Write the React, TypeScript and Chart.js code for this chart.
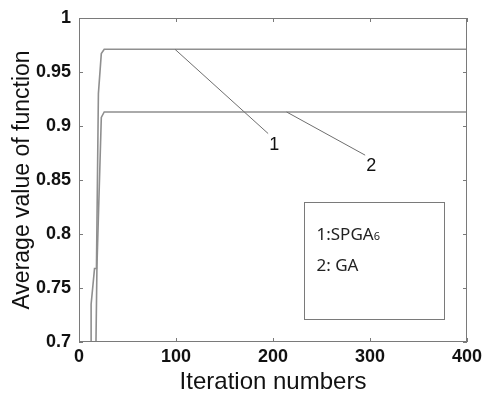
import React, { useEffect, useRef } from "react";
import { Chart, registerables } from "chart.js";

Chart.register(...registerables);

// Series data (iteration, average value of function)
const spgaX = [12.5, 12.5, 16, 18, 20, 23, 26, 400];
const spgaY = [0.7, 0.735, 0.768, 0.768, 0.93, 0.967, 0.971, 0.971];
const gaX = [17.5, 18.5, 23, 26, 400];
const gaY = [0.7, 0.77, 0.908, 0.913, 0.913];

const xTicks = [0, 100, 200, 300, 400];
const yTicks = [0.7, 0.75, 0.8, 0.85, 0.9, 0.95, 1];

// Leader line annotations: [fromX, fromY, toX, toY]
const leader1 = [99, 0.971, 195, 0.893];
const leader2 = [214, 0.913, 295, 0.873];
const leaderLabels = ["1", "2"];

// Legend box (data coordinates)
const legendBox = [232, 0.8296, 376, 0.7213];
const legendLines = ["1:SPGA", "2: GA"];
const legendSub = "6";

const LINE_COLOR = "#8f8f8f";
const FRAME_COLOR = "#7a7a7a";
const TEXT_COLOR = "#111111";

const overlay = {
  id: "overlay",
  afterDatasetsDraw(chart: any) {
    const { ctx, chartArea: a, scales } = chart;
    const xs = scales.x;
    const ys = scales.y;
    ctx.save();
    ctx.strokeStyle = FRAME_COLOR;
    ctx.lineWidth = 1;
    ctx.strokeRect(Math.round(a.left) + 0.5, Math.round(a.top) + 0.5, Math.round(a.right - a.left) - 1, Math.round(a.bottom - a.top) - 1);
    const tl = 4;
    ctx.beginPath();
    for (const v of xTicks) {
      const px = Math.round(xs.getPixelForValue(v)) + 0.5;
      ctx.moveTo(px, a.bottom);
      ctx.lineTo(px, a.bottom - tl);
      ctx.moveTo(px, a.top);
      ctx.lineTo(px, a.top + tl);
    }
    for (const v of yTicks) {
      const py = Math.round(ys.getPixelForValue(v)) + 0.5;
      ctx.moveTo(a.left, py);
      ctx.lineTo(a.left + tl, py);
      ctx.moveTo(a.right, py);
      ctx.lineTo(a.right - tl, py);
    }
    ctx.stroke();

    ctx.strokeStyle = "#6e6e6e";
    ctx.lineWidth = 1;
    const leaders = [leader1, leader2];
    ctx.fillStyle = TEXT_COLOR;
    ctx.font = "18px 'Liberation Sans', Arial, sans-serif";
    ctx.textAlign = "left";
    ctx.textBaseline = "middle";
    leaders.forEach((l, i) => {
      const x1 = xs.getPixelForValue(l[0]);
      const y1 = ys.getPixelForValue(l[1]);
      const x2 = xs.getPixelForValue(l[2]);
      const y2 = ys.getPixelForValue(l[3]);
      ctx.beginPath();
      ctx.moveTo(x1, y1);
      ctx.lineTo(x2, y2);
      ctx.stroke();
      ctx.fillText(leaderLabels[i], x2 + 1, y2 + 11);
    });

    const bx1 = Math.round(xs.getPixelForValue(legendBox[0])) + 0.5;
    const by1 = Math.round(ys.getPixelForValue(legendBox[1])) + 0.5;
    const bx2 = Math.round(xs.getPixelForValue(legendBox[2])) + 0.5;
    const by2 = Math.round(ys.getPixelForValue(legendBox[3])) + 0.5;
    ctx.strokeStyle = FRAME_COLOR;
    ctx.strokeRect(bx1, by1, bx2 - bx1, by2 - by1);
    ctx.fillStyle = "#222";
    ctx.textBaseline = "alphabetic";
    ctx.font = "17px 'Noto Sans', sans-serif";
    const tx = bx1 + 12;
    ctx.fillText(legendLines[0], tx, by1 + 37);
    const w = ctx.measureText(legendLines[0]).width;
    ctx.font = "11px 'Noto Sans', sans-serif";
    ctx.fillText(legendSub, tx + w, by1 + 37);
    ctx.font = "17px 'Noto Sans', sans-serif";
    ctx.fillText(legendLines[1], tx, by1 + 68);
    ctx.restore();
  },
};

export default function App() {
  const ref = useRef<HTMLCanvasElement>(null);
  useEffect(() => {
    if (!ref.current) return;
    const chart = new Chart(ref.current, {
      type: "line",
      data: {
        datasets: [
          {
            label: "1:SPGA6",
            data: spgaX.map((x, i) => ({ x, y: spgaY[i] })),
            borderColor: LINE_COLOR,
            borderWidth: 1.6,
            pointRadius: 0,
            tension: 0,
          },
          {
            label: "2: GA",
            data: gaX.map((x, i) => ({ x, y: gaY[i] })),
            borderColor: LINE_COLOR,
            borderWidth: 1.6,
            pointRadius: 0,
            tension: 0,
          },
        ],
      },
      options: {
        animation: false,
        responsive: false,
        maintainAspectRatio: false,
        layout: { padding: { top: 18, right: 16, left: 0, bottom: 0 } },
        plugins: { legend: { display: false }, tooltip: { enabled: false } },
        scales: {
          x: {
            type: "linear",
            min: 0,
            max: 400,
            afterFit: (s: any) => {
              s.height = 52;
              s.paddingLeft = 0;
              s.paddingRight = 0;
            },
            afterBuildTicks: (s: any) => {
              s.ticks = xTicks.map((v) => ({ value: v }));
            },
            grid: { display: false, drawTicks: false },
            border: { display: false },
            ticks: {
              padding: 4,
              color: TEXT_COLOR,
              maxRotation: 0,
              font: { family: "'Liberation Sans', Arial, sans-serif", size: 18, weight: "bold" },
            },
            title: {
              display: true,
              text: "Iteration numbers",
              color: TEXT_COLOR,
              padding: { top: 0, bottom: -3 },
              font: { family: "'Liberation Sans', Arial, sans-serif", size: 24, weight: "normal" },
            },
          },
          y: {
            type: "linear",
            min: 0.7,
            max: 1,
            afterFit: (s: any) => {
              s.width = 79;
              s.paddingTop = 0;
              s.paddingBottom = 0;
            },
            afterBuildTicks: (s: any) => {
              s.ticks = yTicks.map((v) => ({ value: v }));
            },
            grid: { display: false, drawTicks: false },
            border: { display: false },
            ticks: {
              padding: 8,
              color: TEXT_COLOR,
              callback: (v: any) => String(Number(v)),
              font: { family: "'Liberation Sans', Arial, sans-serif", size: 18, weight: "bold" },
            },
            title: {
              display: true,
              text: "Average value of function",
              color: TEXT_COLOR,
              padding: { top: 9, bottom: 0 },
              font: { family: "'Liberation Sans', Arial, sans-serif", size: 23, weight: "normal" },
            },
          },
        },
      },
      plugins: [overlay],
    });
    return () => chart.destroy();
  }, []);
  return (
    <div style={{ position: "absolute", left: 0, top: 0, width: 483, height: 394, background: "#fff" }}>
      <canvas ref={ref} width={483} height={394} style={{ display: "block" }} />
    </div>
  );
}
